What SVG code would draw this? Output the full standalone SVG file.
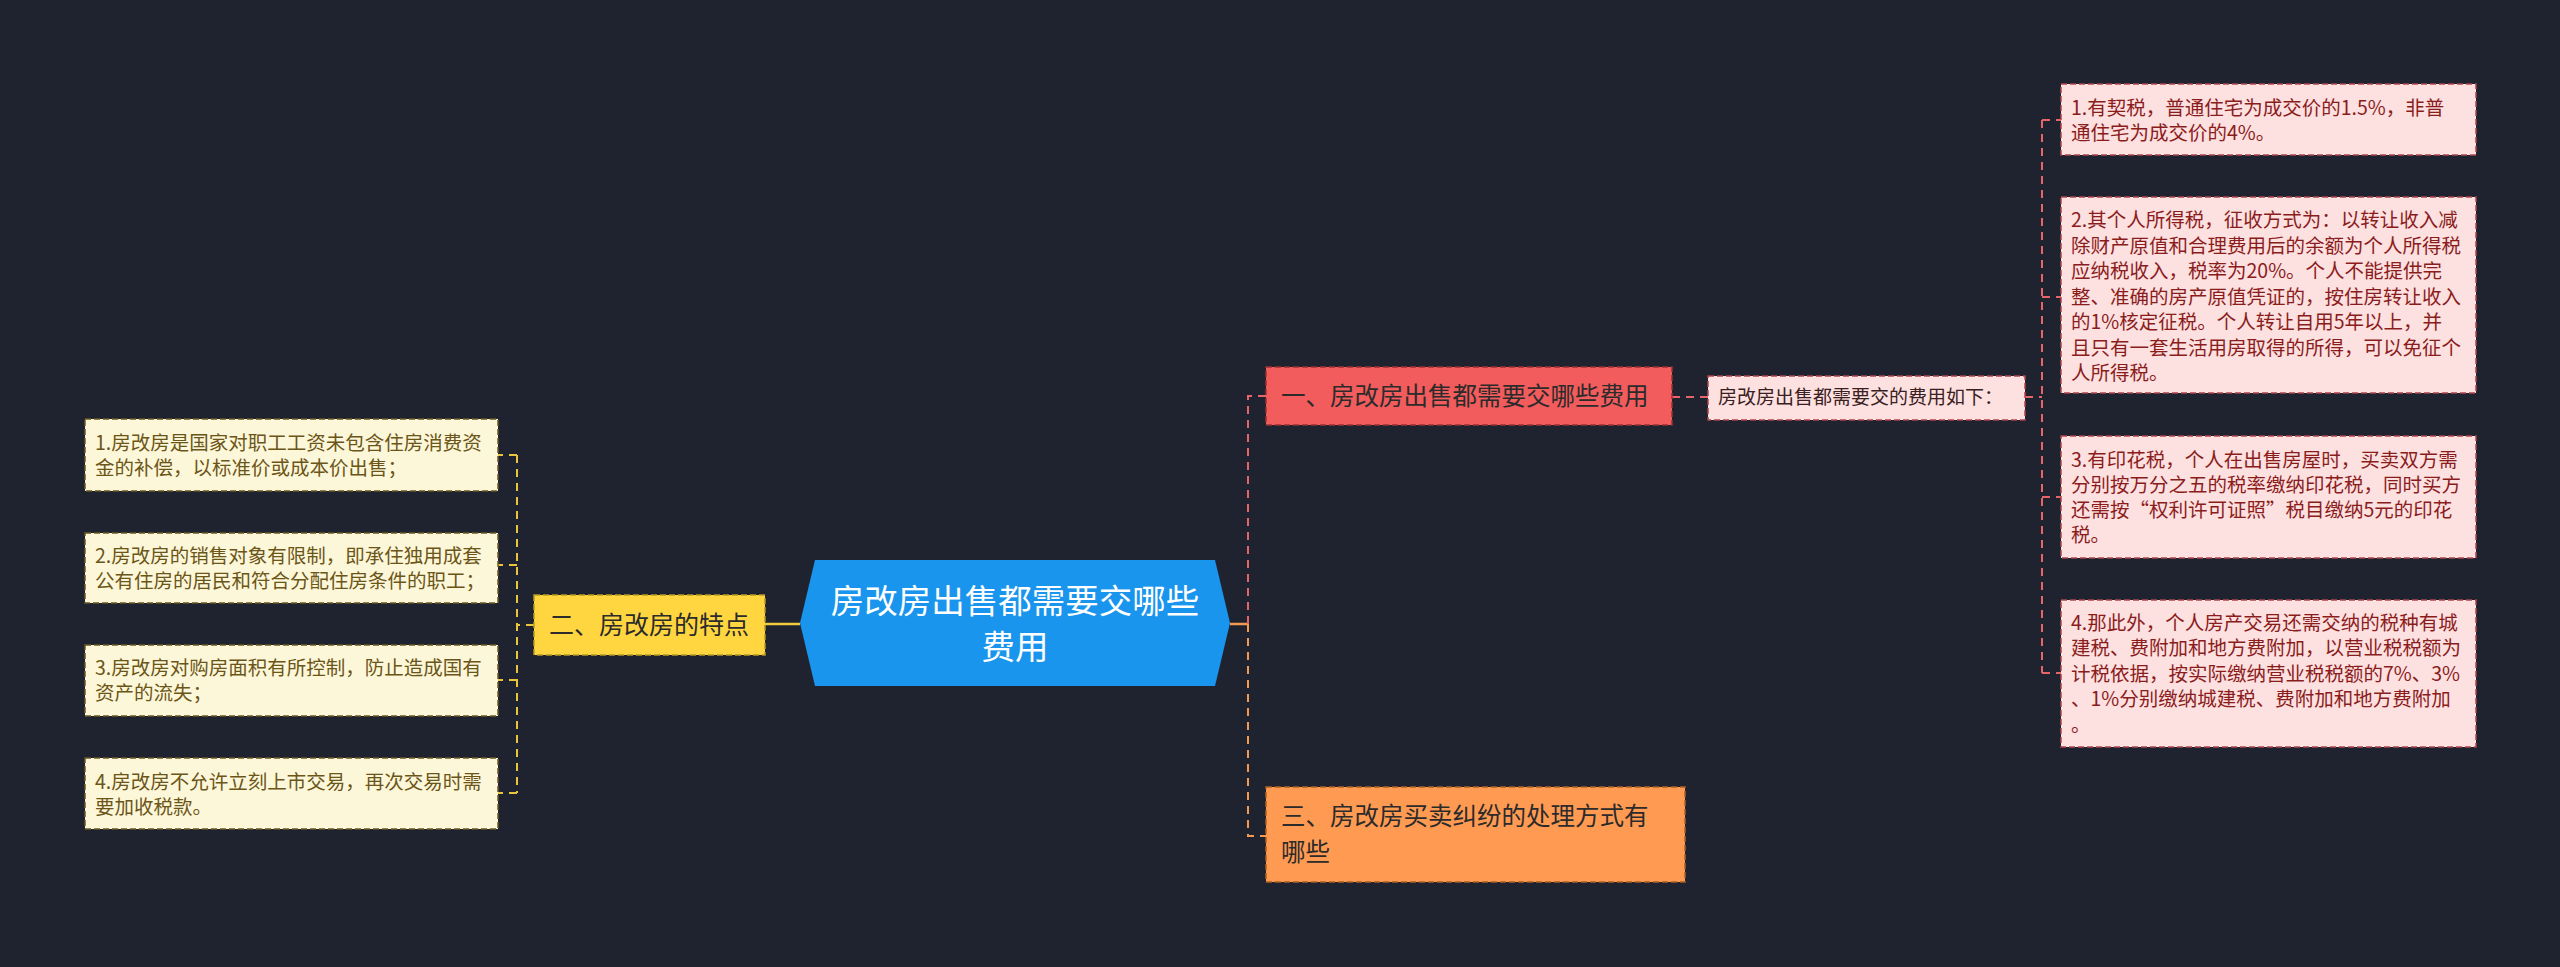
<svg xmlns="http://www.w3.org/2000/svg" width="2560" height="967" viewBox="0 0 2560 967">
<style>
text{font-family:"Noto Sans CJK SC","Noto Sans",sans-serif;}
.lf{fill:#fdf7d9;stroke:#6b5a1f;stroke-width:1.5;stroke-dasharray:6 3;}
.lt{fill:#6b5518;font-size:19.5px;}
.rf{fill:#fde0e0;stroke:#b0444a;stroke-width:1.5;stroke-dasharray:6 3;}
.rt{fill:#8b1c1c;font-size:19.5px;}
.cy{stroke:#e8c53a;stroke-width:2;fill:none;stroke-dasharray:8 6;}
.cr{stroke:#e8646b;stroke-width:2;fill:none;stroke-dasharray:8 6;}
.co{stroke:#f39a52;stroke-width:2;fill:none;stroke-dasharray:8 6;}
</style>
<rect width="2560" height="967" fill="#1f2330"/>
<g id="connectors">
<path d="M800 624 H764" stroke="#f2cc3c" stroke-width="2.5" fill="none"/>
<path class="cy" d="M534 625 H517 M517 455 V793 M517 455 H498 M517 565 H498 M517 680 H498 M517 793 H498"/>
<path d="M1230 624 H1248" stroke="#f39a52" stroke-width="2.5" fill="none"/>
<path class="cr" d="M1248 624 V396 H1266"/>
<path class="co" d="M1248 624 V836 H1266"/>
<path class="cr" d="M1672 397 H1708"/>
<path class="cr" d="M2025 397 H2042 M2042 120 V673 M2042 120 H2061 M2042 297 H2061 M2042 497 H2061 M2042 673 H2061"/>
</g>
<g id="center">
<polygon points="815,560 1215,560 1230,623 1215,686 815,686 800,623" fill="#1a95ee"/>
<text x="1015" y="613" font-size="33.5" fill="#ffffff" text-anchor="middle">房改房出售都需要交哪些</text>
<text x="1015" y="659" font-size="33.5" fill="#ffffff" text-anchor="middle">费用</text>
</g>
<g id="n2">
<rect x="534" y="595" width="231" height="60" fill="#ffd640" stroke="#b89a20" stroke-width="1.5" stroke-dasharray="6 3"/>
<text x="649" y="634" font-size="25" fill="#2b2b2b" text-anchor="middle">二、房改房的特点</text>
</g>
<g id="l1"><rect class="lf" x="85" y="419" width="413" height="72"/>
<text class="lt" x="95" y="450">1.房改房是国家对职工工资未包含住房消费资</text><text class="lt" x="95" y="475">金的补偿，以标准价或成本价出售；</text></g>
<g id="l2"><rect class="lf" x="85" y="533" width="413" height="70"/>
<text class="lt" x="95" y="563">2.房改房的销售对象有限制，即承住独用成套</text><text class="lt" x="95" y="588">公有住房的居民和符合分配住房条件的职工；</text></g>
<g id="l3"><rect class="lf" x="85" y="645" width="413" height="71"/>
<text class="lt" x="95" y="675">3.房改房对购房面积有所控制，防止造成国有</text><text class="lt" x="95" y="700">资产的流失；</text></g>
<g id="l4"><rect class="lf" x="85" y="758" width="413" height="71"/>
<text class="lt" x="95" y="789">4.房改房不允许立刻上市交易，再次交易时需</text><text class="lt" x="95" y="814">要加收税款。</text></g>
<g id="n1">
<rect x="1266" y="367" width="406" height="58" fill="#f25c5c" stroke="#a03030" stroke-width="1.5" stroke-dasharray="6 3"/>
<text x="1281" y="405" font-size="24.5" fill="#2b2b2b">一、房改房出售都需要交哪些费用</text>
</g>
<g id="n3">
<rect x="1266" y="787" width="419" height="95" fill="#ff9a52" stroke="#b06020" stroke-width="1.5" stroke-dasharray="6 3"/>
<text x="1281" y="825" font-size="24.5" fill="#2b2b2b">三、房改房买卖纠纷的处理方式有</text>
<text x="1281" y="861" font-size="24.5" fill="#2b2b2b">哪些</text>
</g>
<g id="sub">
<rect x="1708" y="376" width="317" height="44" fill="#fde0e0" stroke="#b0444a" stroke-width="1.5" stroke-dasharray="6 3"/>
<text x="1718" y="404" font-size="19" fill="#3a2020">房改房出售都需要交的费用如下：</text>
</g>
<g id="r1"><rect class="rf" x="2061" y="84" width="415" height="71"/>
<text class="rt" x="2071" y="115">1.有契税，普通住宅为成交价的1.5%，非普</text><text class="rt" x="2071" y="140">通住宅为成交价的4%。</text></g>
<g id="r2"><rect class="rf" x="2061" y="197" width="415" height="196"/>
<text class="rt" x="2071" y="227">2.其个人所得税，征收方式为：以转让收入减</text>
<text class="rt" x="2071" y="252.5">除财产原值和合理费用后的余额为个人所得税</text>
<text class="rt" x="2071" y="278">应纳税收入，税率为20%。个人不能提供完</text>
<text class="rt" x="2071" y="303.5">整、准确的房产原值凭证的，按住房转让收入</text>
<text class="rt" x="2071" y="329">的1%核定征税。个人转让自用5年以上，并</text>
<text class="rt" x="2071" y="354.5">且只有一套生活用房取得的所得，可以免征个</text>
<text class="rt" x="2071" y="380">人所得税。</text></g>
<g id="r3"><rect class="rf" x="2061" y="436" width="415" height="122"/>
<text class="rt" x="2071" y="467">3.有印花税，个人在出售房屋时，买卖双方需</text>
<text class="rt" x="2071" y="492">分别按万分之五的税率缴纳印花税，同时买方</text>
<text class="rt" x="2071" y="517">还需按“权利许可证照”税目缴纳5元的印花</text>
<text class="rt" x="2071" y="542">税。</text></g>
<g id="r4"><rect class="rf" x="2061" y="600" width="415" height="147"/>
<text class="rt" x="2071" y="630">4.那此外，个人房产交易还需交纳的税种有城</text>
<text class="rt" x="2071" y="655">建税、费附加和地方费附加，以营业税税额为</text>
<text class="rt" x="2071" y="681">计税依据，按实际缴纳营业税税额的7%、3%</text>
<text class="rt" x="2071" y="706">、1%分别缴纳城建税、费附加和地方费附加</text>
<text class="rt" x="2071" y="732">。</text></g>
</svg>
